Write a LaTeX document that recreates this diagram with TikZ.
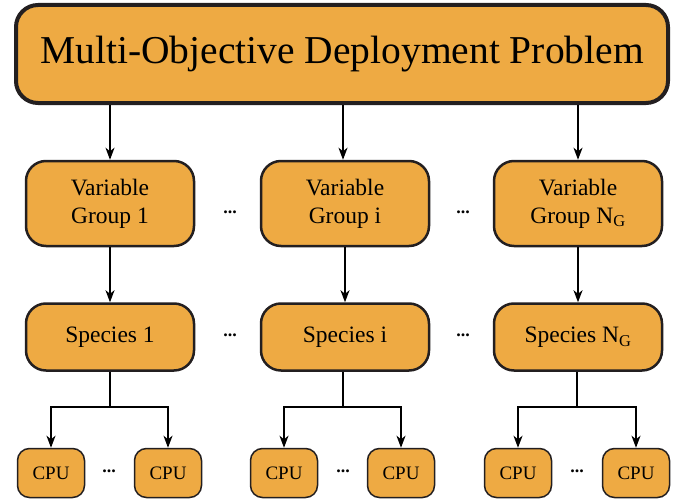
\documentclass[tikz,border=0pt]{standalone}
\usepackage{fontspec}
\setmainfont{Liberation Serif}
\usetikzlibrary{shapes,arrows.meta}
\definecolor{boxfill}{RGB}{238,170,67}
\definecolor{boxline}{RGB}{35,31,32}
\tikzstyle{problem} = [rectangle, draw=boxline, fill=boxfill, line width=4pt, rounded corners=22pt, minimum width=652pt, minimum height=98pt, font=\fontsize{39.5}{44}\selectfont]
\tikzstyle{group} = [rectangle, draw=boxline, fill=boxfill, line width=2.5pt, rounded corners=20pt, minimum width=168pt, minimum height=85pt, align=center, font=\fontsize{23.5}{28}\selectfont]
\tikzstyle{species} = [rectangle, draw=boxline, fill=boxfill, line width=2.5pt, rounded corners=20pt, minimum width=168pt, minimum height=67pt, font=\fontsize{23.5}{26}\selectfont]
\tikzstyle{cpu} = [rectangle, draw=boxline, fill=boxfill, line width=1.5pt, rounded corners=12pt, minimum width=67pt, minimum height=49pt, font=\fontsize{19}{22}\selectfont]
\tikzstyle{dots} = [inner sep=0pt, font=\fontsize{18}{18}\selectfont\bfseries]

\begin{document}
\begin{tikzpicture}[x=1pt, y=-1pt, >={Stealth[length=12pt,width=9pt,inset=3.5pt]}, line width=1.3pt]
   \useasboundingbox (0,0) rectangle (685,503);
   % nodes
   \node[problem] (mop) at (342,54)       {Multi-Objective Deployment Problem};
   \node[group] (vg1) at (110,203.5)      {Variable\\Group 1};
   \node[group] (vgi) at (345,203.5)      {Variable\\Group i};
   \node[group] (vgn) at (578,203.5)      {Variable\\Group N\textsubscript{G}};
   \node[species] (sp1) at (110,337)      {Species 1};
   \node[species] (spi) at (345,337)      {Species i};
   \node[species] (spn) at (578,337)      {Species N\textsubscript{G}};
   \node[cpu] (c1a) at (51,473)           {CPU};
   \node[cpu] (c1b) at (168,473)          {CPU};
   \node[cpu] (cia) at (284,473)          {CPU};
   \node[cpu] (cib) at (401,473)          {CPU};
   \node[cpu] (cna) at (518,473)          {CPU};
   \node[cpu] (cnb) at (636,473)          {CPU};
   \node[dots] (d1) at (230,212)          {...};
   \node[dots] (d2) at (463,212)          {...};
   \node[dots] (d3) at (230,335)          {...};
   \node[dots] (d4) at (463,335)          {...};
   \node[dots] (d5) at (109,471)          {...};
   \node[dots] (d6) at (343,471)          {...};
   \node[dots] (d7) at (577,471)          {...};
   \coordinate (b1) at (110,407);
   \coordinate (bi) at (343,407);
   \coordinate (bn) at (577,407);

   % edges
   \draw[->] (mop.south -| vg1) -- (vg1);
   \draw[->] (mop.south -| bi) -- (vgi.north -| bi);
   \draw[->] (mop.south -| vgn) -- (vgn);
   \draw[->] (vg1) -- (sp1);
   \draw[->] (vgi) -- (spi);
   \draw[->] (vgn) -- (spn);
   \draw (sp1) -- (b1);
   \draw (spi.south -| bi) -- (bi);
   \draw (spn.south -| bn) -- (bn);
   \draw[->] (b1) -| (c1a);
   \draw[->] (b1) -| (c1b);
   \draw[->] (bi) -| (cia);
   \draw[->] (bi) -| (cib);
   \draw[->] (bn) -| (cna);
   \draw[->] (bn) -| (cnb);
\end{tikzpicture}
\end{document}
